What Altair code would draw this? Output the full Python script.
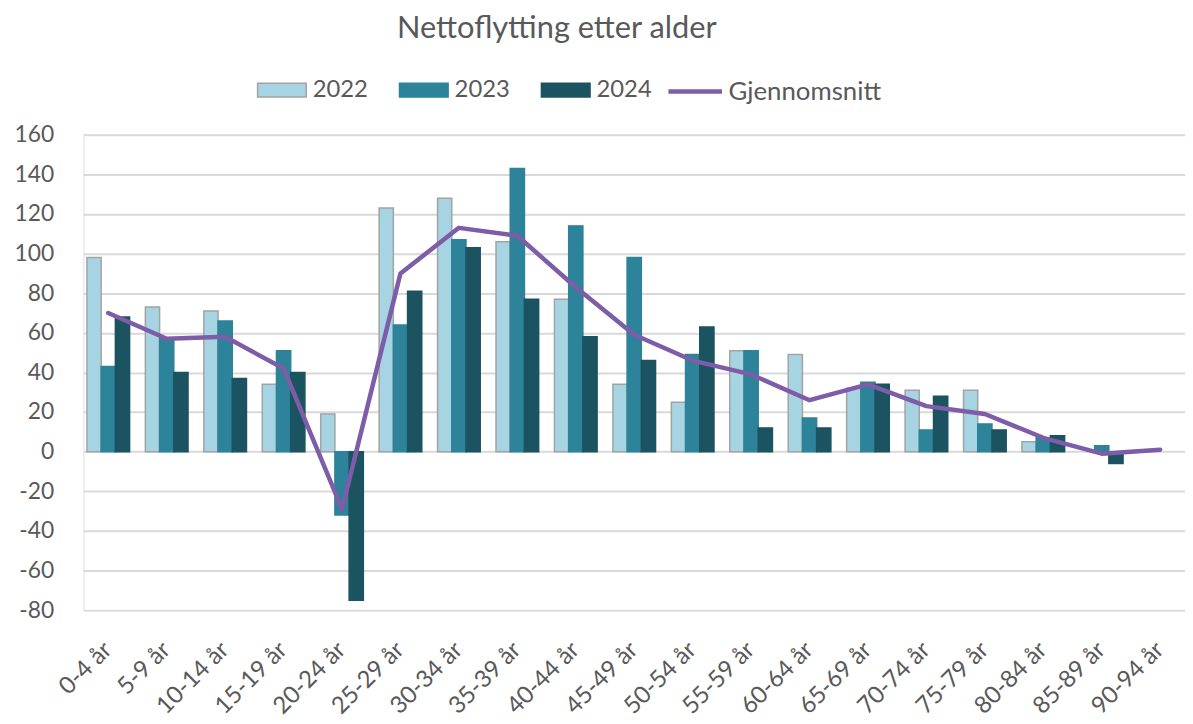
import altair as alt
import pandas as pd

ages = ["0-4 år", "5-9 år", "10-14 år", "15-19 år", "20-24 år", "25-29 år", "30-34 år",
        "35-39 år", "40-44 år", "45-49 år", "50-54 år", "55-59 år", "60-64 år", "65-69 år",
        "70-74 år", "75-79 år", "80-84 år", "85-89 år", "90-94 år"]
years = ["2022", "2023", "2024"]
v2022 = [98, 73, 71, 34, 19, 123, 128, 106, 77, 34, 25, 51, 49, 32, 31, 31, 5, None, None]
v2023 = [43, 57, 66, 51, -32, 64, 107, 143, 114, 98, 49, 51, 17, 35, 11, 14, 7, 3, None]
v2024 = [68, 40, 37, 40, -75, 81, 103, 77, 58, 46, 63, 12, 12, 34, 28, 11, 8, -6, None]
avg = [70, 57, 58, 42, -29, 90, 113, 109, 83, 59, 46, 39, 26, 34, 23, 19, 7, -1, 1]
y_ticks = [-80, -60, -40, -20, 0, 20, 40, 60, 80, 100, 120, 140, 160]

fill_colors = ["#A6D4E2", "#2D8399", "#1C5361"]
stroke_colors = ["#A3A3A3", "#2D8399", "#1C5361"]
line_color = "#7D5CA8"
FONT = "Lato"
TXT = "#595959"

bars_df = pd.DataFrame({
    "alder": ages * 3,
    "år": [years[0]] * len(ages) + [years[1]] * len(ages) + [years[2]] * len(ages),
    "verdi": v2022 + v2023 + v2024,
})
line_df = pd.DataFrame({"alder": ages, "verdi": avg, "serie": ["Gjennomsnitt"] * len(ages)})

x_axis = alt.Axis(labelAngle=-45, labelAlign="right", labelBaseline="middle",
                  labelPadding=36, labelFontSize=24, labelColor=TXT, labelFont=FONT,
                  domain=False, ticks=False, grid=False, labelOverlap=False)
x_scale = alt.Scale(paddingInner=0.27, paddingOuter=0.06)
y_axis = alt.Axis(values=y_ticks, domain=False, ticks=False, gridColor="#D9D9D9",
                  gridWidth=2, labelPadding=30, labelFontSize=23, labelColor=TXT,
                  labelFont=FONT, labelOverlap=False, labelExpr="'' + datum.value")
y_scale = alt.Scale(domain=[-80, 160], nice=False)

x = alt.X("alder:N", sort=ages, title=None, scale=x_scale, axis=x_axis)
y = alt.Y("verdi:Q", title=None, scale=y_scale, axis=y_axis)

bar_legend = alt.Legend(title=None, orient="none", legendX=185, legendY=-60,
                        direction="horizontal",
                        symbolType="M-1.75,-0.5H1.75V0.5H-1.75Z", symbolSize=784,
                        symbolStrokeWidth=1.5, labelOffset=16, columnPadding=28,
                        labelFontSize=24, labelFont=FONT, labelColor=TXT)

bars = alt.Chart(bars_df).mark_bar(strokeWidth=1.5).encode(
    x=x,
    y=y,
    xOffset=alt.XOffset("år:N", sort=years, scale=alt.Scale(paddingInner=0, paddingOuter=0)),
    fill=alt.Fill("år:N", sort=years, scale=alt.Scale(domain=years, range=fill_colors),
                  legend=bar_legend),
    stroke=alt.Stroke("år:N", sort=years, scale=alt.Scale(domain=years, range=stroke_colors),
                      legend=bar_legend),
)

line = alt.Chart(line_df).mark_line(strokeWidth=4.5, strokeCap="round", strokeJoin="round").encode(
    x=x,
    y=y,
    color=alt.Color("serie:N", scale=alt.Scale(domain=["Gjennomsnitt"], range=[line_color]),
                    legend=alt.Legend(title=None, orient="none", legendX=587, legendY=-73,
                                      symbolType="stroke", symbolSize=2916,
                                      symbolStrokeWidth=4.5, labelOffset=4,
                                      labelFontSize=26, labelFont=FONT, labelColor=TXT)),
)

chart = alt.layer(bars, line).properties(
    width=1110,
    height=479,
    padding={"left": 5, "top": 2, "right": 0, "bottom": 0},
    title=alt.Title("Nettoflytting etter alder", fontSize=31, font=FONT, color=TXT,
                    fontWeight="normal", anchor="middle", dx=-78, offset=18),
).configure_view(stroke=None).configure(background="white")

chart.save("out.html", embed_options={"renderer": "svg", "actions": False})
